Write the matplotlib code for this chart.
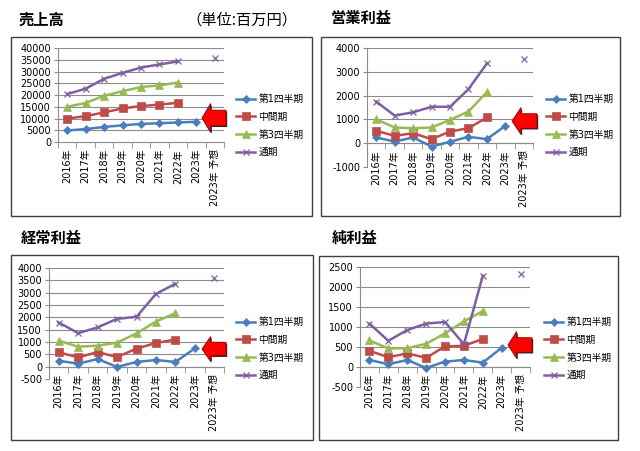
import numpy as np
import matplotlib
matplotlib.use("Agg")
import matplotlib.pyplot as plt
from matplotlib.patches import Rectangle, Polygon

plt.rcParams['font.family'] = ['DejaVu Sans', 'Noto Sans CJK JP']

nan = np.nan

# ------------------------------------------------------
# データ（単位：百万円）
# ------------------------------------------------------
categories = ['2016年', '2017年', '2018年', '2019年', '2020年',
              '2021年', '2022年', '2023年', '2023年 予想']
series_names = ['第1四半期', '中間期', '第3四半期', '通期']

sales_q1 = [4900, 5500, 6400, 7100, 7700, 8000, 8300, 8600, nan]
sales_h1 = [10000, 11000, 12600, 14300, 15300, 15900, 16700, nan, nan]
sales_q3 = [15000, 16600, 19700, 21600, 23400, 24100, 25300, nan, nan]
sales_fy = [20400, 22700, 26900, 29400, 31700, 33000, 34300, nan, 35600]

op_q1 = [240, 70, 240, -140, 60, 270, 170, 730, nan]
op_h1 = [520, 310, 420, 170, 490, 630, 1080, nan, nan]
op_q3 = [1000, 660, 630, 660, 980, 1330, 2150, nan, nan]
op_fy = [1750, 1160, 1300, 1530, 1530, 2270, 3350, nan, 3550]

ord_q1 = [240, 120, 310, -10, 190, 270, 190, 740, nan]
ord_h1 = [580, 380, 590, 390, 730, 960, 1100, nan, nan]
ord_q3 = [1050, 810, 850, 970, 1350, 1830, 2170, nan, nan]
ord_fy = [1790, 1360, 1590, 1940, 2020, 2950, 3360, nan, 3600]

net_q1 = [175, 70, 175, -25, 135, 175, 110, 480, nan]
net_h1 = [405, 245, 340, 230, 515, 530, 700, nan, nan]
net_q3 = [665, 465, 470, 580, 840, 1140, 1400, nan, nan]
net_fy = [1085, 655, 925, 1085, 1125, 570, 2280, nan, 2320]

# ------------------------------------------------------
# スタイル
# ------------------------------------------------------
W, H = 640, 451
colors = ['#4A7EBB', '#BE4B48', '#98B954', '#7D60A0']
markers = ['D', 's', '^', 'x']
msizes = [4, 5.5, 5.5, 5]
grid_c = '#8C8C8C'


def fr(x0, y0, x1, y1):
    # ピクセル座標 -> figure 座標
    return [x0 / W, 1 - y1 / H, (x1 - x0) / W, (y1 - y0) / H]


def draw_arrow(fig, tip_x, tip_y, length, height):
    hx = tip_x + length * 0.36
    ex = tip_x + length
    hh = height / 2
    th = height * 0.27
    pts = [(tip_x, tip_y), (hx, tip_y - hh), (hx, tip_y - th), (ex, tip_y - th),
           (ex, tip_y + th), (hx, tip_y + th), (hx, tip_y + hh)]
    shadow = [((x + 1.2) / W, 1 - (y + 1.2) / H) for x, y in pts]
    main = [(x / W, 1 - y / H) for x, y in pts]
    fig.add_artist(Polygon(shadow, closed=True, transform=fig.transFigure,
                           facecolor='#303030', edgecolor='none'))
    fig.add_artist(Polygon(main, closed=True, transform=fig.transFigure,
                           facecolor='#FF0000', edgecolor='#8B0000', linewidth=0.6))


def panel(fig, box, ax_rect, title, title_xy, data, yticks, leg_xy, arrow):
    # 枠
    bx0, by0, bx1, by1 = box
    fig.add_artist(Rectangle((bx0 / W, 1 - by1 / H), (bx1 - bx0) / W, (by1 - by0) / H,
                             transform=fig.transFigure, fill=False,
                             edgecolor='#404040', linewidth=1.0))
    fig.text(title_xy[0] / W, 1 - title_xy[1] / H, title, fontsize=11,
             fontweight='bold', family=['Noto Sans CJK JP'], va='center', ha='left')

    ax = fig.add_axes(fr(*ax_rect))
    x = np.arange(len(categories))
    for vals, name, c, m, ms in zip(data, series_names, colors, markers, msizes):
        ax.plot(x, vals, color=c, marker=m, markersize=ms, linewidth=1.8,
                markeredgewidth=0.9 if m == 'x' else 0.5, label=name, zorder=3)

    ax.set_xlim(-0.5, len(categories) - 0.5)
    ax.set_ylim(yticks[0], yticks[-1])
    ax.set_yticks(yticks)
    ax.set_yticklabels([str(v) for v in yticks])
    for v in yticks[1:]:
        ax.axhline(v, color=grid_c, linewidth=0.8, zorder=1)

    for s in ['top', 'right']:
        ax.spines[s].set_visible(False)
    ax.spines['left'].set_color(grid_c)
    ax.spines['bottom'].set_color(grid_c)
    ax.spines['bottom'].set_position(('data', 0))

    ax.set_xticks(x)
    ax.set_xticklabels(categories, rotation=90, va='top')
    ax.set_xticks(np.arange(-0.5, len(categories)), minor=True)
    ax.tick_params(axis='x', which='major', length=0, pad=5, labelsize=7)
    ax.tick_params(axis='x', which='minor', length=4, color=grid_c)
    ax.tick_params(axis='y', length=3, color=grid_c, pad=2, labelsize=7)

    ax.legend(loc='upper left', bbox_to_anchor=(leg_xy[0] / W, 1 - leg_xy[1] / H),
              bbox_transform=fig.transFigure, frameon=False, fontsize=7,
              borderpad=0, borderaxespad=0, handlelength=2.0, handletextpad=0.3,
              labelspacing=0.8)

    draw_arrow(fig, *arrow)
    return ax


fig = plt.figure(figsize=(W / 100, H / 100), dpi=100)

panel(fig, (11, 37, 312, 216), (58, 48, 224, 142), '売上高', (19, 20),
      [sales_q1, sales_h1, sales_q3, sales_fy],
      list(range(0, 40001, 5000)), (236, 94), (202, 118, 24, 29))
fig.text(186 / W, 1 - 20 / H, '（単位:百万円）', fontsize=11,
         family=['Noto Sans CJK JP'], va='center', ha='left')

panel(fig, (321, 37, 620, 216), (367, 48, 533, 167), '営業利益', (331, 18),
      [op_q1, op_h1, op_q3, op_fy],
      list(range(-1000, 4001, 1000)), (546, 94), (512, 121, 25, 27))

panel(fig, (11, 255, 313, 440), (49, 268, 224, 379), '経常利益', (21, 238),
      [ord_q1, ord_h1, ord_q3, ord_fy],
      list(range(-500, 4001, 500)), (236, 317), (202, 349, 24, 25))

panel(fig, (319, 256, 618, 440), (360, 267, 530, 387), '純利益', (332, 238),
      [net_q1, net_h1, net_q3, net_fy],
      list(range(-500, 2501, 500)), (544, 317), (508, 345, 24, 27))

fig.savefig('out.png', dpi=100)
